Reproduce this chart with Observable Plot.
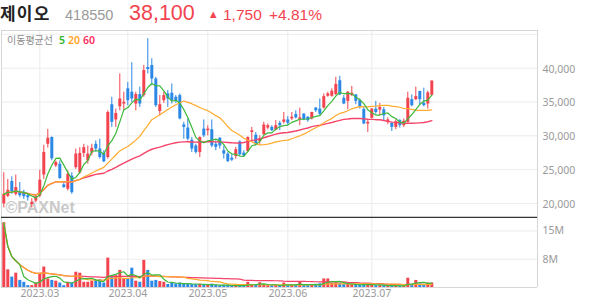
<!DOCTYPE html>
<html><head><meta charset="utf-8">
<script src="https://cdn.jsdelivr.net/npm/d3@7"></script>
<script src="https://cdn.jsdelivr.net/npm/@observablehq/plot@0.6"></script>
<style>
body{margin:0;background:#fff;}
#wrap{position:relative;width:594px;height:304px;overflow:hidden;background:#fff;font-family:"Noto Sans",sans-serif;}
#price{position:absolute;left:0;top:30px;}
#vol{position:absolute;left:0;top:218px;}
#overlay{position:absolute;left:0;top:0;pointer-events:none;}
svg{display:block;}
</style></head><body>
<div id="wrap">
<div id="price"></div>
<div id="vol"></div>
<svg id="overlay" width="594" height="60">
  <text x="0" y="20" font-family="'Noto Sans CJK KR'" font-weight="700" font-size="17" letter-spacing="1.2" fill="#222">제이오</text>
  <text x="65" y="20" font-family="'Liberation Sans'" font-size="14.5" fill="#999">418550</text>
  <text x="129" y="20" font-family="'Liberation Sans'" font-size="21.5" fill="#f2444f">38,100</text>
  <text x="210" y="17" font-family="'DejaVu Sans'" font-size="8.5" fill="#f2444f">▲</text>
  <text x="223" y="20" font-family="'Liberation Sans'" font-size="15.5" fill="#f2444f">1,750</text>
  <text x="269" y="20" font-family="'Liberation Sans'" font-size="15.5" fill="#f2444f">+4.81%</text>
  <text x="7" y="44" font-family="'Noto Sans CJK KR'" font-size="10" fill="#8c8c8c">이동평균선</text>
  <text x="59" y="44" font-family="'Noto Sans'" font-size="10.5" font-weight="600" fill="#2fb52f">5</text>
  <text x="68" y="44" font-family="'Noto Sans'" font-size="10.5" font-weight="600" fill="#ffa31f">20</text>
  <text x="83" y="44" font-family="'Noto Sans'" font-size="10.5" font-weight="600" fill="#ff2e5e">60</text>
</svg>
</div>
<script>
// ---- data ----
const opens  = [19950,21050,23250,21350,21650,21650,21150,19850,20350,21100,24200,28750,29750,25550,25800,22750,22100,24050,25300,24550,27400,26300,27450,28750,28050,27400,26800,34600,32350,34300,34700,36950,36450,34700,36100,35950,40100,40400,38400,33600,35200,36200,36300,35700,35950,31600,31150,29350,28500,27550,31000,30750,30900,28750,29650,27800,27300,26700,26950,29100,27450,27700,30500,30100,29150,30150,31150,31250,30850,31850,32000,32350,32500,33150,32350,33200,32750,32500,34100,33950,34100,35850,35850,36100,38150,35550,35100,35950,36050,35200,33900,31750,32600,33950,33800,33850,32000,31850,31250,32250,31500,32000,35350,35350,36550,34800,34700,36000];
const highs  = [24550,23550,23950,24200,23100,21950,21450,20700,21350,24900,28600,30950,29850,26300,26300,22950,24800,24550,28050,28250,28750,28500,28750,29250,29500,27800,33700,35700,33950,39150,36450,37900,40800,36450,37200,40400,44350,41400,38650,35950,36450,36700,37650,35950,36200,32000,32500,29750,28750,29850,32350,31500,32350,29250,29750,28500,27550,27200,28300,29250,27800,29850,31250,30500,30000,32000,31750,31500,32250,32150,33450,32850,33450,33700,34100,33300,32850,33500,34200,35450,36200,36450,36950,38650,38800,35950,36550,37300,36100,35450,34200,32250,34050,35100,34800,34200,32650,31950,32350,32400,32500,36450,36050,37200,36600,37050,36600,38100];
const lows   = [19350,20850,21350,21100,20850,20600,20350,19350,20100,20850,23550,28200,26300,25300,23550,22250,21850,21350,25050,24300,26800,25800,27050,27550,26550,26050,26550,31250,31250,33700,33700,34450,34950,33700,34200,35700,39150,37400,34200,32950,34800,34200,34700,34800,32350,29500,29250,27550,27300,26800,29750,30000,28250,27800,28050,26550,26050,26200,26550,27050,26900,27550,29100,28500,28750,30100,30900,30650,30750,30750,31750,31500,32250,32500,31500,32250,32000,32350,33450,32950,33950,35700,35700,35950,35950,34600,33850,35800,34600,33950,31650,30500,32500,33200,32950,32250,31650,30650,30900,31150,31250,31900,34300,35200,34450,34300,33950,35850];
const closes = [21350,21950,21750,22350,21150,21000,20850,20150,21000,23450,27550,29650,26600,26050,23700,22350,24300,21600,27300,27400,28250,27300,28150,28050,26800,26150,33450,32000,33300,35450,34950,35200,35450,36100,34700,39650,39800,38400,34450,34600,35950,35450,35200,35100,32500,31250,29500,28050,27550,29750,30000,31000,28500,28300,28500,27300,26200,26400,27950,27200,27050,29750,30750,28750,29600,31600,31500,30750,31500,31500,32350,31850,32750,32650,32650,32350,32250,33450,33700,33200,35800,36200,36600,37600,36050,34700,36450,36300,35100,34200,31750,32000,33950,33450,34200,32950,32350,31250,32100,31500,32150,35550,34450,35800,35350,34450,36350,38100];
const volumesM = [17.4,4.75,2.8,3.85,1.9,1.4,0.5,0.5,1.2,3.7,5.5,2.3,1.9,1.7,1.2,0.5,1.4,1.25,4.1,3.85,1.4,1.4,1.7,1.9,2.1,1.2,7.9,3.2,3.2,4.6,2.3,2.3,5.2,1.7,1.4,7.3,4.6,1.7,1.9,1.6,1.4,0.8,1.25,1.0,1.2,1.0,0.9,0.8,0.8,0.9,0.7,0.6,0.9,0.6,0.5,0.6,0.6,0.4,0.5,0.6,0.4,1.4,0.8,0.6,1.3,0.8,0.5,0.5,0.6,0.5,1.2,0.6,0.6,0.6,1.5,0.6,0.5,0.7,0.8,1.0,2.3,2.3,1.1,1.3,1.1,0.8,0.9,0.7,0.6,0.7,1.0,0.9,0.6,0.5,0.5,0.6,0.4,0.5,0.4,0.4,0.4,2.5,0.8,1.9,0.9,0.7,1.2,1.2];
const monthIdx = [9, 31, 51, 71, 92];
const monthLabels = ["2023.03","2023.04","2023.05","2023.06","2023.07"];
const priceTicks = [20000, 25000, 30000, 35000, 40000];
const priceGrid = [20000, 25000, 30000, 35000, 40000, 45000];
const volTicks = [7.6e6, 15.2e6];
const volTickLabels = ["8M", "15M"];

// ---- styling ----
const UP = "#f2434e", DOWN = "#2c88e6";
const C5 = "#3cb93a", C20 = "#ffab2e", C60 = "#f5446a";
const GRID = "#ececec", BORDER = "#d6d6d6";
const xDomain = [-0.575, 133.425];
const font = "'Noto Sans', sans-serif";

const data = closes.map((c, i) => ({
  i, open: opens[i], high: highs[i], low: lows[i], close: c,
  vol: volumesM[i] * 1e6,
  col: c >= opens[i] ? UP : DOWN
}));

const ma = (k, field, color, w) => Plot.lineY(data, Plot.windowY({k, anchor: "end", reduce: "mean", strict: false}, {x: "i", y: field, stroke: color, strokeWidth: w}));

const price = Plot.plot({
  width: 594, height: 188,
  marginLeft: 1, marginRight: 57, marginTop: 0, marginBottom: 1,
  style: {fontFamily: font, fontSize: "10.5px", background: "transparent"},
  x: {domain: xDomain, axis: null, label: null},
  y: {domain: [17930, 45570], axis: null, label: null},
  color: {type: "identity"},
  marks: [
    Plot.gridY(priceGrid, {stroke: GRID, strokeOpacity: 1}),
    Plot.gridX(monthIdx, {stroke: GRID, strokeOpacity: 1}),
    Plot.frame({stroke: BORDER}),
    Plot.axisY(priceTicks, {anchor: "right", label: null, tickSize: 0, tickPadding: 5, dy: 1, color: "#9a9a9a", fontSize: 10.5, tickFormat: d3.format(",")}),
    Plot.text(["©PAXNet"], {frameAnchor: "bottom-left", dx: 4, dy: -5, fontSize: 16, fontWeight: "bold", fontFamily: "'Liberation Sans', sans-serif", fill: "#c9c9c9"}),
    Plot.ruleX(data, {x: "i", y1: "low", y2: "high", stroke: "col", strokeWidth: 1}),
    Plot.ruleX(data, {x: "i", y1: "open", y2: "close", stroke: "col", strokeWidth: 3}),
    ma(60, "close", C60, 1.4),
    ma(20, "close", C20, 1.2),
    ma(5, "close", C5, 1.2),
    Plot.ruleY([17930], {stroke: "#333", strokeWidth: 1.5})
  ]
});
document.getElementById("price").appendChild(price);

const vol = Plot.plot({
  width: 594, height: 86,
  marginLeft: 1, marginRight: 57, marginTop: 0, marginBottom: 17,
  style: {fontFamily: font, fontSize: "10.5px", background: "transparent"},
  x: {domain: xDomain, axis: null, label: null},
  y: {domain: [0, 18.55e6], axis: null, label: null},
  color: {type: "identity"},
  marks: [
    Plot.gridY(volTicks, {stroke: GRID, strokeOpacity: 1}),
    Plot.gridX(monthIdx, {stroke: GRID, strokeOpacity: 1}),
    Plot.ruleX([xDomain[0], xDomain[1]], {stroke: BORDER}),
    Plot.ruleY([0], {stroke: BORDER}),
    Plot.axisY(volTicks, {anchor: "right", label: null, tickSize: 0, tickPadding: 5, color: "#9a9a9a", fontSize: 10.5, tickFormat: d => volTickLabels[volTicks.indexOf(d)]}),
    Plot.axisX(monthIdx, {anchor: "bottom", label: null, tickSize: 0, tickPadding: 2, color: "#9a9a9a", fontSize: 10.5, tickFormat: d => monthLabels[monthIdx.indexOf(d)]}),
    Plot.ruleX(data, {x: "i", y1: 0, y2: "vol", stroke: "col", strokeWidth: 3}),
    ma(60, "vol", C60, 1.2),
    ma(20, "vol", C20, 1.2),
    ma(5, "vol", C5, 1.2)
  ]
});
document.getElementById("vol").appendChild(vol);
</script>
</body></html>
